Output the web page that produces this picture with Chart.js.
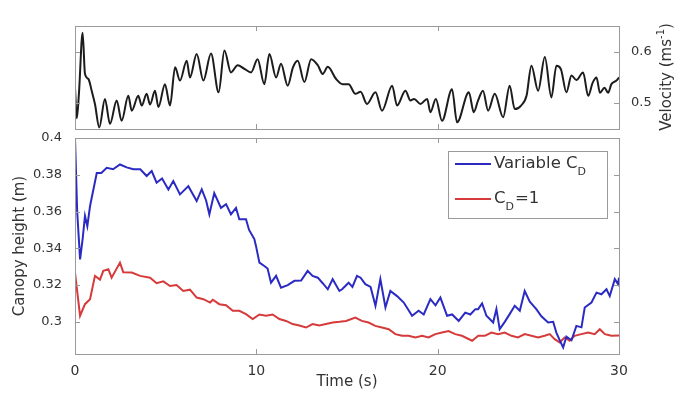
<!DOCTYPE html>
<html>
<head>
<meta charset="utf-8">
<script src="https://cdn.jsdelivr.net/npm/chart.js@4.4.1/dist/chart.umd.min.js"></script>
<style>
  body { margin: 0; background: #fff; }
  #wrap { position: relative; width: 680px; height: 410px; }
  canvas { position: absolute; left: 0; top: 0; }
</style>
</head>
<body>
<div id="wrap">
  <canvas id="velChart" width="680" height="410"></canvas>
  <canvas id="hChart" width="680" height="410"></canvas>
</div>
<script>
// top panel: velocity (m/s) vs time (s)
let timeV = [0, 0.1, 0.22, 0.42, 0.55, 0.74, 0.92, 1.10, 1.34, 1.65, 1.93, 2.30, 2.57, 2.94, 3.13, 3.49, 3.68, 3.95, 4.14, 4.41,
  4.60, 4.96, 5.24, 5.52, 5.79, 6.16, 6.34, 6.71, 7.08, 7.50, 7.92, 8.24, 8.60, 8.97, 9.34, 9.71, 10.07, 10.44, 10.72, 11.09,
  11.36, 11.73, 12.02, 12.28, 12.65, 13.02, 13.39, 13.66, 13.94, 14.40, 14.76, 15.09, 15.46, 15.75, 16.10, 16.57, 16.93, 17.49, 17.76, 18.22,
  18.50, 18.70, 19.05, 19.42, 19.60, 19.90, 20.24, 20.79, 21.07, 21.72, 21.99, 22.23, 22.50, 22.78, 23.15, 23.61, 23.97, 24.25, 24.60, 24.90,
  25.17, 25.54, 25.91, 26.27, 26.55, 26.80, 27.10, 27.38, 27.65, 28.02, 28.30, 28.55, 28.76, 28.95, 29.20, 29.40, 29.58, 29.86, 30];
let velocity = [0.53, 0.47, 0.52, 0.638, 0.557, 0.547, 0.524, 0.498, 0.452, 0.508, 0.459, 0.505, 0.465, 0.514, 0.485, 0.514, 0.495, 0.518, 0.497, 0.524,
  0.492, 0.537, 0.495, 0.570, 0.544, 0.583, 0.550, 0.596, 0.544, 0.597, 0.521, 0.603, 0.560, 0.574, 0.567, 0.560, 0.586, 0.537, 0.596, 0.550,
  0.577, 0.534, 0.570, 0.583, 0.541, 0.586, 0.574, 0.557, 0.571, 0.547, 0.537, 0.537, 0.518, 0.522, 0.498, 0.521, 0.485, 0.534, 0.495, 0.524,
  0.505, 0.508, 0.498, 0.508, 0.482, 0.508, 0.465, 0.527, 0.462, 0.521, 0.482, 0.505, 0.524, 0.485, 0.518, 0.472, 0.534, 0.488, 0.495, 0.514,
  0.573, 0.524, 0.590, 0.511, 0.573, 0.566, 0.521, 0.554, 0.545, 0.560, 0.514, 0.540, 0.550, 0.520, 0.530, 0.520, 0.537, 0.544, 0.550];

// bottom panel: canopy height (m), variable C_D
let timeVar = [0, 0.12, 0.28, 0.42, 0.55, 0.68, 0.83, 1.2, 1.45, 1.75, 2.1, 2.48, 2.85, 3.22, 3.6, 3.95, 4.23, 4.5, 4.8, 5.15,
  5.42, 5.79, 6.25, 6.71, 6.99, 7.23, 7.41, 7.68, 8.05, 8.33, 8.6, 8.88, 9.06, 9.43, 9.6, 9.89, 9.98, 10.17, 10.44, 10.62,
  10.81, 11.09, 11.36, 11.73, 12.1, 12.47, 12.83, 13.1, 13.39, 13.66, 13.94, 14.21, 14.58, 14.73, 15.09, 15.3, 15.55, 15.75, 16.01, 16.3,
  16.57, 16.84, 17.12, 17.39, 17.76, 18.13, 18.59, 18.95, 19.23, 19.6, 19.88, 20.15, 20.52, 20.8, 21.16, 21.52, 21.8, 22.08, 22.23, 22.45,
  22.69, 23.06, 23.24, 23.42, 23.7, 23.97, 24.25, 24.53, 24.8, 25.08, 25.44, 25.72, 26.09, 26.37, 26.55, 26.73, 26.92, 27.1, 27.38, 27.65,
  27.93, 28.11, 28.48, 28.76, 29.03, 29.31, 29.49, 29.77, 29.95, 30];
let heightVar = [0.400, 0.360, 0.334, 0.345, 0.3576, 0.352, 0.363, 0.381, 0.381, 0.3838, 0.383, 0.3856, 0.384, 0.383, 0.383, 0.3793, 0.382, 0.3757, 0.378, 0.372,
  0.3766, 0.3693, 0.3738, 0.3657, 0.372, 0.366, 0.3585, 0.370, 0.362, 0.364, 0.3585, 0.362, 0.3558, 0.3558, 0.350, 0.345, 0.3413, 0.3322, 0.3304, 0.329,
  0.3213, 0.325, 0.3186, 0.320, 0.3223, 0.3225, 0.3277, 0.325, 0.324, 0.321, 0.3177, 0.3232, 0.3168, 0.3177, 0.3213, 0.319, 0.325, 0.324, 0.3205, 0.319,
  0.3087, 0.3232, 0.3078, 0.3168, 0.314, 0.3105, 0.3033, 0.306, 0.304, 0.3123, 0.309, 0.3132, 0.3033, 0.304, 0.3005, 0.305, 0.304, 0.3069, 0.3069, 0.310,
  0.3033, 0.2996, 0.307, 0.296, 0.300, 0.3042, 0.3087, 0.306, 0.3168, 0.311, 0.3069, 0.303, 0.2996, 0.300, 0.294, 0.290, 0.286, 0.292, 0.290, 0.2978,
  0.297, 0.3078, 0.3105, 0.3159, 0.315, 0.3177, 0.314, 0.3232, 0.3205, 0.324];

// bottom panel: canopy height (m), C_D = 1
let timeConst = [0, 0.28, 0.55, 0.83, 1.1, 1.38, 1.56, 1.84, 2.02, 2.48, 2.66, 3.13, 3.59, 4.14, 4.5, 4.87, 5.24, 5.6, 5.97, 6.34,
  6.71, 7.08, 7.45, 7.6, 7.96, 8.33, 8.7, 9.06, 9.43, 9.8, 10.17, 10.53, 10.9, 11.27, 11.64, 12.0, 12.37, 12.74, 13.1, 13.47,
  13.84, 14.21, 14.58, 14.95, 15.46, 15.82, 16.19, 16.56, 16.93, 17.3, 17.67, 18.04, 18.4, 18.77, 19.14, 19.5, 19.87, 20.24, 20.6, 20.97,
  21.34, 21.9, 22.24, 22.6, 22.96, 23.33, 23.7, 24.07, 24.43, 24.8, 25.17, 25.54, 25.9, 26.18, 26.45, 26.73, 27.0, 27.28, 27.55, 27.92,
  28.3, 28.66, 28.94, 29.22, 29.58, 30];
let heightConst = [0.3268, 0.3033, 0.3096, 0.3123, 0.325, 0.323, 0.3277, 0.3286, 0.324, 0.3322, 0.327, 0.3268, 0.325, 0.324, 0.321, 0.322, 0.3195, 0.320, 0.3168, 0.3175,
  0.3132, 0.3123, 0.3105, 0.312, 0.3096, 0.309, 0.306, 0.306, 0.3042, 0.3015, 0.304, 0.3033, 0.304, 0.3015, 0.3005, 0.2988, 0.298, 0.2969, 0.2988, 0.298,
  0.2988, 0.2996, 0.300, 0.3005, 0.3023, 0.3005, 0.2996, 0.2978, 0.2969, 0.296, 0.2933, 0.2924, 0.2924, 0.2915, 0.2924, 0.2915, 0.2933, 0.2942, 0.295, 0.2933,
  0.2924, 0.2897, 0.2924, 0.2924, 0.2942, 0.2933, 0.2942, 0.2924, 0.2915, 0.2933, 0.2924, 0.2915, 0.2924, 0.2933, 0.2906, 0.2888, 0.2915, 0.2897, 0.2924, 0.2933,
  0.2942, 0.2933, 0.296, 0.2933, 0.2924, 0.2926];

let timeTicks = [0, 10, 20, 30];

const FONT = "'DejaVu Sans', sans-serif";
const TXT = '#333';
const FRAME = '#9a9a9a';

function pts(xs, ys) {
    return xs.map((x, i) => ({ x: x, y: ys[i] }));
}
function fmt(v) {
    return String(parseFloat(v.toFixed(3)));
}

// box around plot area + small inward ticks (matlab style)
const framePlugin = {
    id: 'frame',
    afterDraw(chart) {
        const ctx = chart.ctx;
        const a = chart.chartArea;
        const sx = chart.scales.x, sy = chart.scales.y;
        ctx.save();
        ctx.strokeStyle = FRAME;
        ctx.lineWidth = 1;
        ctx.strokeRect(Math.round(a.left) + 0.5, Math.round(a.top) + 0.5, Math.round(a.right - a.left), Math.round(a.bottom - a.top));
        ctx.beginPath();
        for (let t of timeTicks) {
            if (t <= sx.min || t >= sx.max) continue;
            let px = Math.round(sx.getPixelForValue(t)) + 0.5;
            ctx.moveTo(px, a.top); ctx.lineTo(px, a.top + 5);
            ctx.moveTo(px, a.bottom); ctx.lineTo(px, a.bottom - 5);
        }
        for (let tk of sy.ticks) {
            let py = Math.round(sy.getPixelForValue(tk.value)) + 0.5;
            if (py <= a.top + 1 || py >= a.bottom - 1) continue;
            ctx.moveTo(a.left, py); ctx.lineTo(a.left + 5, py);
            ctx.moveTo(a.right, py); ctx.lineTo(a.right - 5, py);
        }
        ctx.stroke();
        ctx.restore();
    }
};

// right axis title reading bottom-to-top, with superscript
const velTitle = {
    id: 'velTitle',
    afterDraw(chart) {
        const ctx = chart.ctx;
        ctx.save();
        ctx.translate(667, 77);
        ctx.rotate(-Math.PI / 2);
        ctx.fillStyle = TXT;
        ctx.textBaseline = 'middle';
        let p1 = 'Velocity (ms', p2 = '-1', p3 = ')';
        ctx.font = '15px ' + FONT;
        let w1 = ctx.measureText(p1).width, w3 = ctx.measureText(p3).width;
        ctx.font = '10px ' + FONT;
        let w2 = ctx.measureText(p2).width;
        let x = -(w1 + w2 + w3) / 2;
        ctx.font = '15px ' + FONT;
        ctx.fillText(p1, x, 0);
        ctx.font = '10px ' + FONT;
        ctx.fillText(p2, x + w1, -6);
        ctx.font = '15px ' + FONT;
        ctx.fillText(p3, x + w1 + w2, 0);
        ctx.restore();
    }
};

// legend box with subscripts
const legendBox = {
    id: 'legendBox',
    afterDraw(chart) {
        const ctx = chart.ctx;
        const ds = chart.data.datasets;
        ctx.save();
        ctx.fillStyle = '#fff';
        ctx.fillRect(448, 151, 159, 67);
        ctx.strokeStyle = FRAME;
        ctx.lineWidth = 1;
        ctx.strokeRect(448.5, 151.5, 159, 67);
        let rows = [
            { y: 164, parts: [['Variable C', 0], ['D', 1]] },
            { y: 199, parts: [['C', 0], ['D', 1], ['=1', 0]] }
        ];
        rows.forEach((r, i) => {
            ctx.strokeStyle = ds[i].borderColor;
            ctx.lineWidth = 2;
            ctx.beginPath();
            ctx.moveTo(455, r.y); ctx.lineTo(491, r.y);
            ctx.stroke();
            let x = 494;
            ctx.fillStyle = TXT;
            ctx.textBaseline = 'middle';
            for (let [s, sub] of r.parts) {
                ctx.font = (sub ? '11px ' : '16.5px ') + FONT;
                ctx.fillText(s, x, r.y + (sub ? 8 : 0));
                x += ctx.measureText(s).width + (sub ? 1 : 0);
            }
        });
        ctx.restore();
    }
};

new Chart(document.getElementById('velChart'), {
    type: 'scatter',
    data: {
        datasets: [{
            label: 'Velocity',
            data: pts(timeV, velocity),
            showLine: true,
            borderColor: '#1c1c1c',
            borderWidth: 2,
            pointRadius: 0,
            cubicInterpolationMode: 'monotone'
        }]
    },
    options: {
        responsive: false,
        animation: false,
        layout: { padding: { left: 75, top: 26, right: 0, bottom: 281 } },
        plugins: { legend: { display: false }, tooltip: { enabled: false } },
        scales: {
            x: {
                type: 'linear', min: 0, max: 30,
                ticks: { display: false, stepSize: 10 },
                grid: { display: false },
                border: { display: false },
                afterFit: s => { s.height = 0; }
            },
            y: {
                position: 'right', min: 0.449, max: 0.651,
                ticks: { stepSize: 0.1, includeBounds: false, padding: 4, color: TXT, font: { family: FONT, size: 13 }, callback: fmt },
                grid: { display: false },
                border: { display: false },
                afterFit: s => { s.width = 61; }
            }
        }
    },
    plugins: [framePlugin, velTitle]
});

new Chart(document.getElementById('hChart'), {
    type: 'scatter',
    data: {
        datasets: [
            {
                label: 'Variable C_D',
                data: pts(timeVar, heightVar),
                showLine: true,
                borderColor: '#2b2bc4',
                borderWidth: 2,
                pointRadius: 0,
                tension: 0
            },
            {
                label: 'C_D=1',
                data: pts(timeConst, heightConst),
                showLine: true,
                borderColor: '#d63a3a',
                borderWidth: 2,
                pointRadius: 0,
                tension: 0
            }
        ]
    },
    options: {
        responsive: false,
        animation: false,
        layout: { padding: { left: 0, top: 138, right: 61, bottom: 0 } },
        plugins: { legend: { display: false }, tooltip: { enabled: false } },
        scales: {
            x: {
                type: 'linear', min: 0, max: 30,
                ticks: { stepSize: 10, padding: 1, color: TXT, font: { family: FONT, size: 14 } },
                grid: { display: false },
                border: { display: false },
                title: { display: true, text: 'Time (s)', color: TXT, font: { family: FONT, size: 15 }, padding: { top: 0, bottom: 19 } },
                afterFit: s => { s.height = 56; }
            },
            y: {
                min: 0.2825, max: 0.4,
                ticks: { stepSize: 0.02, includeBounds: false, padding: 5, color: TXT, font: { family: FONT, size: 13 }, callback: fmt },
                grid: { display: false },
                border: { display: false },
                title: { display: true, text: 'Canopy height (m)', color: TXT, font: { family: FONT, size: 15 }, padding: { top: 11, bottom: 0 } },
                afterFit: s => { s.width = 75; }
            }
        }
    },
    plugins: [framePlugin, legendBox]
});
</script>
</body>
</html>
